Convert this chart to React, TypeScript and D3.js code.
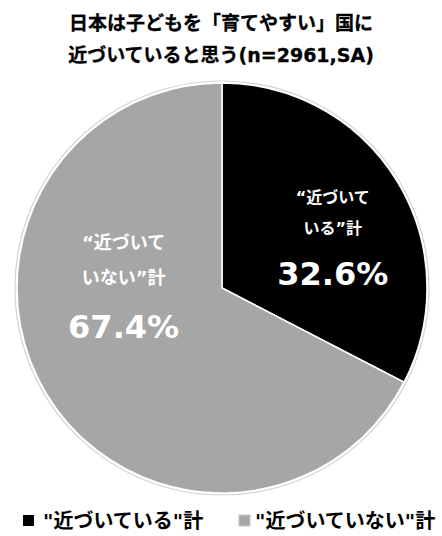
import { useEffect, useRef } from 'react';
import * as d3 from 'd3';

const categories = ['"近づいている"計', '"近づいていない"計'];
const values = [32.6, 67.4];
const sliceLabels = [
  ['“近づいて', 'いる”計'],
  ['“近づいて', 'いない”計'],
];
const colors = ['#000000', '#a6a6a6'];
const titleLines = ['日本は子どもを「育てやすい」国に', '近づいていると思う(n=2961,SA)'];

const FONT = "'DejaVu Sans', 'Noto Sans CJK JP', sans-serif";

const App = () => {
  const svgRef = useRef<SVGSVGElement>(null!);

  useEffect(() => {
    const width = 442;
    const height = 536;
    const cx = 222;
    const cy = 288;
    const r = 205;

    const svg = d3
      .select(svgRef.current)
      .attr('width', width)
      .attr('height', height);

    // title
    svg
      .append('g')
      .selectAll('text')
      .data(titleLines)
      .enter()
      .append('text')
      .attr('x', 221)
      .attr('y', (_, i) => 23 + i * 32)
      .attr('text-anchor', 'middle')
      .attr('dominant-baseline', 'central')
      .attr('font-family', FONT)
      .attr('font-weight', 'bold')
      .attr('font-size', 19)
      .attr('fill', '#000')
      .attr('stroke', '#000')
      .attr('stroke-width', 0.3)
      .text(d => d);

    const pie = d3
      .pie<number>()
      .sort(null)
      .value(d => d);
    const arcs = pie(values);
    const arc = d3.arc<d3.PieArcDatum<number>>().innerRadius(0).outerRadius(r);

    const g = svg.append('g').attr('transform', `translate(${cx},${cy})`);

    g.append('circle')
      .attr('r', r + 2)
      .attr('fill', 'none')
      .attr('stroke', '#d4d4d4')
      .attr('stroke-width', 1.2);

    g.selectAll('path.slice')
      .data(arcs)
      .enter()
      .append('path')
      .attr('class', 'slice')
      .attr('d', arc)
      .attr('fill', (_, i) => colors[i])
      .attr('stroke', '#fff')
      .attr('stroke-width', 1.5);

    // label anchors as fractions of radius
    const anchors = [
      { x: 0.54, y: -0.44, size: 16, gap: 31 },
      { x: -0.48, y: -0.22, size: 18, gap: 35 },
    ];

    arcs.forEach((a, i) => {
      const an = anchors[i];
      const lx = an.x * r;
      const ly = an.y * r;
      sliceLabels[i].forEach((line, j) => {
        g.append('text')
          .attr('x', lx)
          .attr('y', ly + j * an.gap)
          .attr('text-anchor', 'middle')
          .attr('dominant-baseline', 'central')
          .attr('font-family', FONT)
          .attr('font-weight', 'bold')
          .attr('font-size', an.size)
          .attr('fill', '#fff')
          .text(line);
      });
      g.append('text')
        .attr('x', lx)
        .attr('y', ly + 2 * an.gap + 14)
        .attr('text-anchor', 'middle')
        .attr('dominant-baseline', 'central')
        .attr('font-family', FONT)
        .attr('font-weight', 'bold')
        .attr('font-size', 32)
        .attr('fill', '#fff')
        .text(`${a.data.toFixed(1)}%`);
    });

    // legend
    const legendX = [23, 239];
    const textOffset = [20, 16];
    const legend = svg
      .append('g')
      .selectAll('g')
      .data(categories)
      .enter()
      .append('g')
      .attr('transform', (_, i) => `translate(${legendX[i]},521)`);
    legend
      .append('rect')
      .attr('x', 0)
      .attr('y', -6)
      .attr('width', 11)
      .attr('height', 11)
      .attr('fill', (_, i) => colors[i])
      .attr('stroke', (_, i) => (i === 1 ? '#c8c8c8' : 'none'));
    legend
      .append('text')
      .attr('x', (_, i) => textOffset[i])
      .attr('y', 0)
      .attr('dominant-baseline', 'central')
      .attr('font-family', FONT)
      .attr('font-weight', 'bold')
      .attr('font-size', 20)
      .attr('fill', '#000')
      .text(d => d);

    return () => {
      svgRef.current.innerHTML = '';
    };
  }, []);

  return (
    <svg
      ref={svgRef}
      style={{ position: 'absolute', left: 0, top: 0, background: '#fff' }}
    ></svg>
  );
};

export default App;
